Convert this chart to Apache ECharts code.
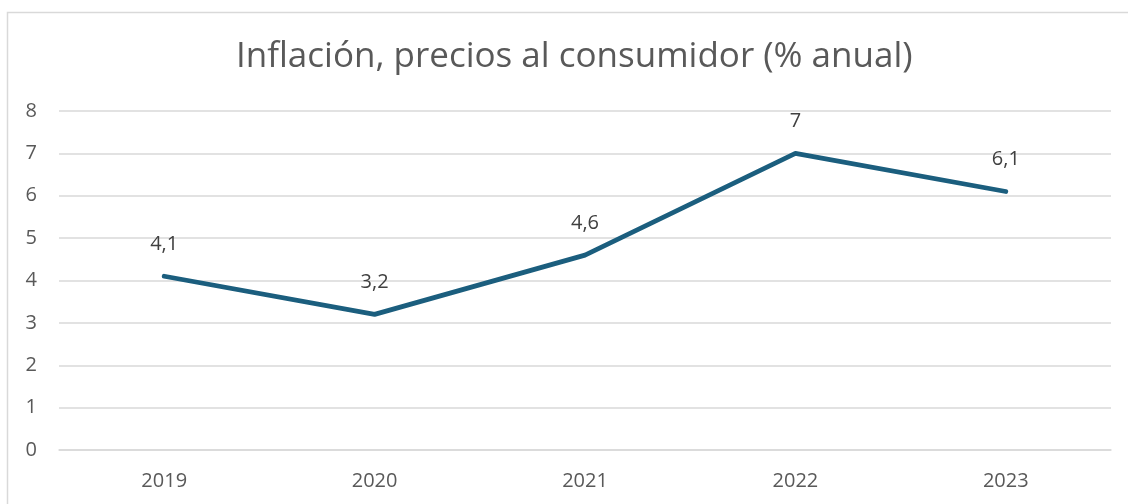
<!DOCTYPE html>
<html><head><meta charset="utf-8">
<script src="https://cdn.jsdelivr.net/npm/echarts@6/dist/echarts.min.js"></script>
<style>html,body{margin:0;padding:0;background:#fff}#c{width:1128px;height:504px}</style>
</head><body><div id="c"></div>
<script>
const categories = ['2019','2020','2021','2022','2023'];
const values = [4.1, 3.2, 4.6, 7, 6.1];
const titleText = 'Inflación, precios al consumidor (% anual)';
const FONT = 'Open Sans, Noto Sans, sans-serif';
const chart = echarts.init(document.getElementById('c'));
chart.setOption({
  animation: false,
  backgroundColor: '#fff',
  graphic: [{type:'rect', shape:{x:7.5,y:12.5,width:1140,height:520}, style:{fill:'none', stroke:'#d9d9d9', lineWidth:1.5}, silent:true}],
  title: {text: titleText, left: 231, top: 35, padding:5, textStyle:{fontFamily:FONT, fontSize:35, fontWeight:'normal', color:'#595959'}},
  grid: {left: 59, right: 17, top: 111, bottom: 54},
  xAxis: {type:'category', data: categories, boundaryGap: true,
    axisLine:{show:true, lineStyle:{color:'#d9d9d9', width:1.5}}, axisTick:{show:false},
    axisLabel:{color:'#595959', fontSize:20, margin:21, fontFamily:FONT}},
  yAxis: {type:'value', min:0, max:8, interval:1,
    axisLine:{show:false}, axisTick:{show:false},
    splitLine:{lineStyle:{color:'#d9d9d9', width:1.5}},
    axisLabel:{color:'#595959', fontSize:20, margin:22, fontFamily:FONT}},
  series: [{type:'line', data: values, symbol:'circle', symbolSize:2, showSymbol:true,
    itemStyle:{color:'#1B5E7E', borderWidth:0},
    lineStyle:{color:'#1B5E7E', width:4.8, cap:'round', join:'round'},
    label:{show:true, position:'top', distance:21, color:'#404040', fontSize:20, fontFamily:FONT,
      formatter: function(p){ return String(p.value).replace('.', ','); }}}]
});
</script></body></html>
